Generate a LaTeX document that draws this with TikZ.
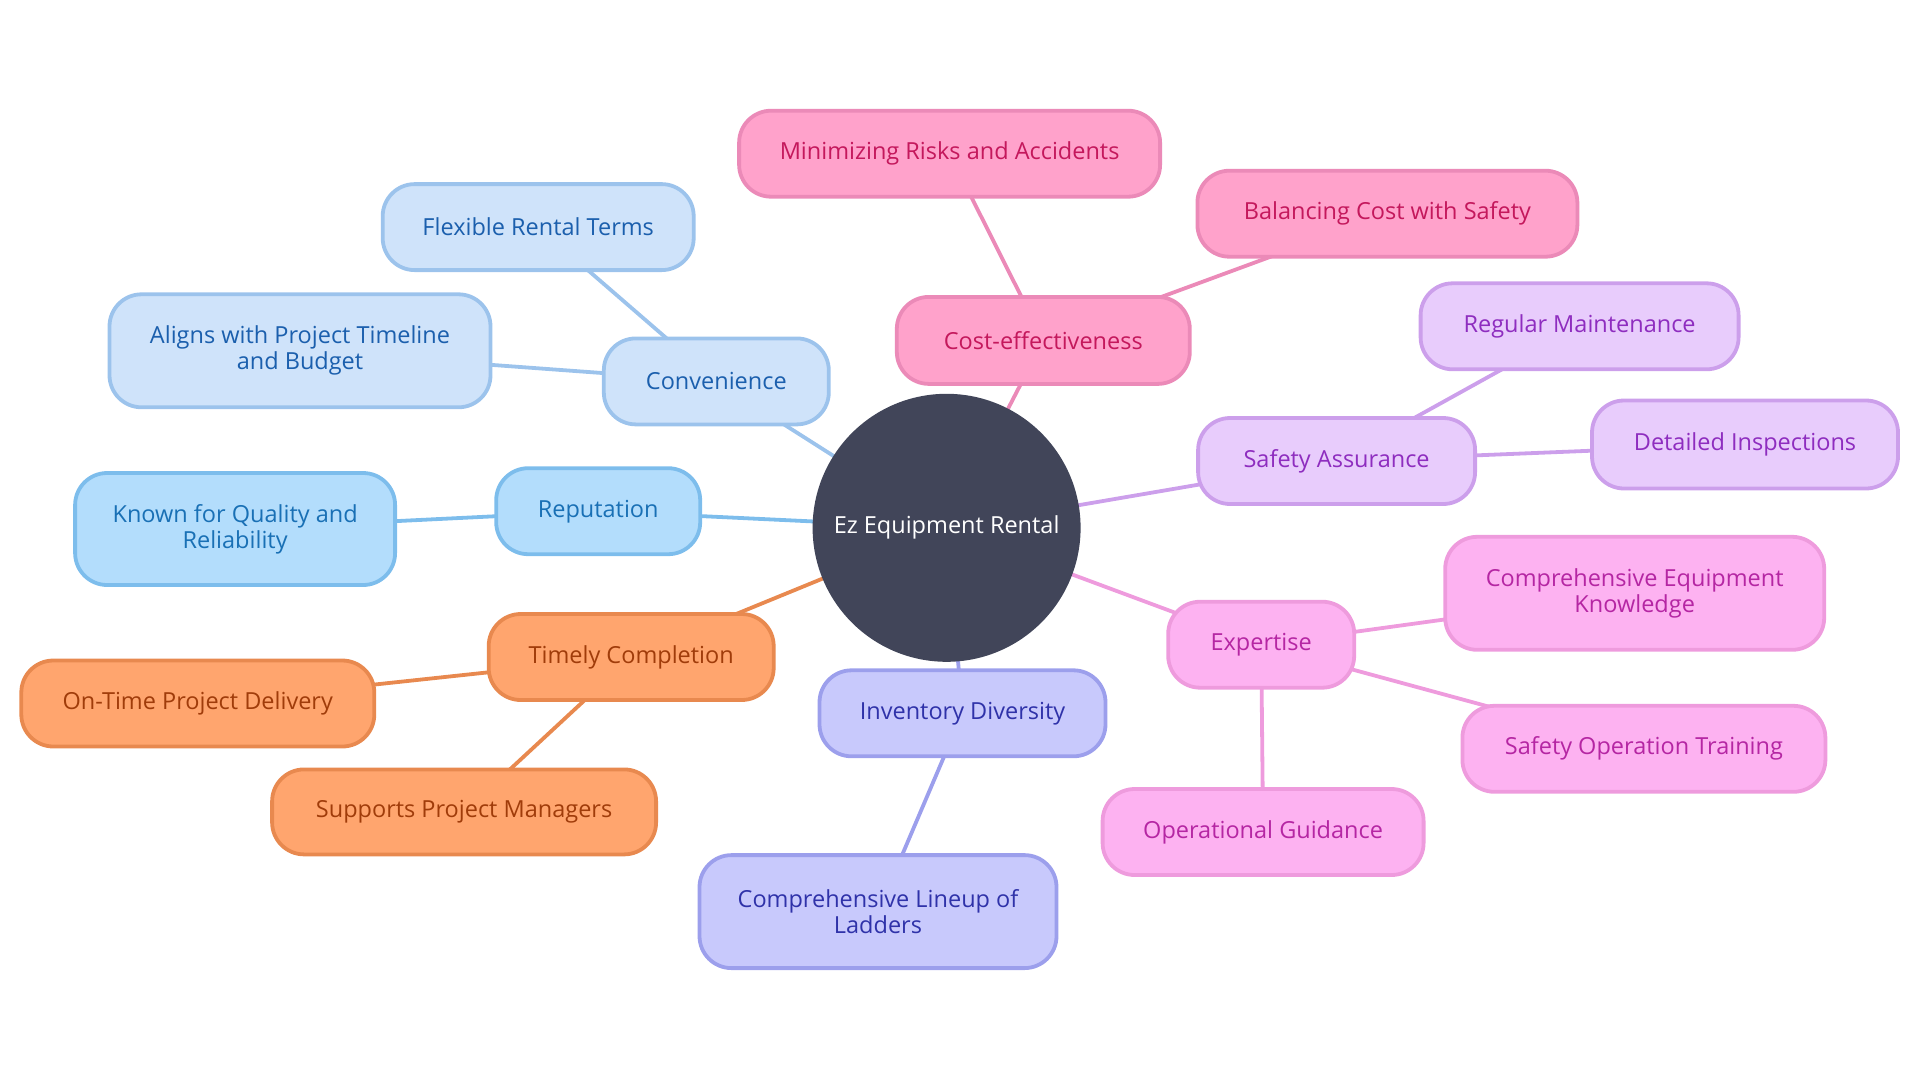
\documentclass[tikz,border=0pt]{standalone}
\usepackage{fontspec}
\setmainfont{Open Sans}
\pgfdeclarelayer{bg}
\pgfsetlayers{bg,main}
\definecolor{convF}{HTML}{CFE3FA}\definecolor{convD}{HTML}{9CC3EC}\definecolor{convT}{HTML}{1B5FAD}
\definecolor{repF}{HTML}{B3DDFC}\definecolor{repD}{HTML}{7DBDEC}\definecolor{repT}{HTML}{1970B5}
\definecolor{costF}{HTML}{FFA2CB}\definecolor{costD}{HTML}{EB8AB8}\definecolor{costT}{HTML}{C4185C}
\definecolor{safeF}{HTML}{E8CCFC}\definecolor{safeD}{HTML}{CC9FEB}\definecolor{safeT}{HTML}{8E2DBF}
\definecolor{expF}{HTML}{FDB2F1}\definecolor{expD}{HTML}{EE9BDD}\definecolor{expT}{HTML}{B526A3}
\definecolor{timeF}{HTML}{FFA56E}\definecolor{timeD}{HTML}{E8894F}\definecolor{timeT}{HTML}{A03C0A}
\definecolor{invF}{HTML}{C8C9FC}\definecolor{invD}{HTML}{9C9FEC}\definecolor{invT}{HTML}{2F32A9}
\definecolor{hub}{HTML}{414559}
\tikzset{
  box/.style={draw, line width=3.8pt, rounded corners=32pt, align=center,
    font=\fontsize{23.5}{26}\selectfont, inner sep=0pt},
  conv/.style={box, fill=convF, draw=convD, text=convT},
  rep/.style={box, fill=repF, draw=repD, text=repT},
  cost/.style={box, fill=costF, draw=costD, text=costT},
  safe/.style={box, fill=safeF, draw=safeD, text=safeT},
  expt/.style={box, fill=expF, draw=expD, text=expT},
  tim/.style={box, fill=timeF, draw=timeD, text=timeT},
  inv/.style={box, fill=invF, draw=invD, text=invT},
  sz/.style 2 args={minimum width=#1pt, minimum height=#2pt},
  link/.style={line width=3.8pt}
}
\begin{document}
\begin{tikzpicture}[x=1pt,y=-1pt]
\useasboundingbox (0,0) rectangle (1920,1080);
\node[circle, fill=hub, minimum size=268pt, inner sep=0pt, text=white,
  font=\fontsize{23.5}{26}\selectfont] (hub) at (946.6,527.8) {Ez Equipment Rental};

\node[cost, sz={421}{86}] (risk) at (949.6,153.7) {Minimizing Risks and Accidents};
\node[cost, sz={380}{86}] (bal) at (1387.4,213.7) {Balancing Cost with Safety};
\node[cost, sz={293}{87}] (cost) at (1043.3,340.4) {Cost-effectiveness};

\node[conv, sz={225}{86}] (conv) at (716.3,381.4) {Convenience};
\node[conv, sz={311}{86}] (flex) at (538.2,227.1) {Flexible Rental Terms};
\node[conv, sz={381}{113}] (align) at (300,350.8) {Aligns with Project Timeline\\and Budget};

\node[rep, sz={204}{86}] (rep) at (598.2,511.2) {Reputation};
\node[rep, sz={320}{112}] (known) at (235.1,529) {Known for Quality and\\Reliability};

\node[tim, sz={285}{86}] (time) at (631.2,657) {Timely Completion};
\node[tim, sz={353}{86}] (ontime) at (197.8,703.5) {On-Time Project Delivery};
\node[tim, sz={384}{85}] (supp) at (464.1,811.9) {Supports Project Managers};

\node[inv, sz={286}{86}] (inv) at (962.5,713.3) {Inventory Diversity};
\node[inv, sz={357}{113}] (ladd) at (878,911.6) {Comprehensive Lineup of\\Ladders};

\node[safe, sz={277}{86}] (safe) at (1336.6,461) {Safety Assurance};
\node[safe, sz={318}{86}] (maint) at (1579.6,326.3) {Regular Maintenance};
\node[safe, sz={306}{88}] (insp) at (1745,444.5) {Detailed Inspections};

\node[expt, sz={186}{86}] (exp) at (1261.2,644.7) {Expertise};
\node[expt, sz={379}{113}] (know) at (1634.7,593.3) {Comprehensive Equipment\\Knowledge};
\node[expt, sz={363}{86}] (train) at (1643.9,748.8) {Safety Operation Training};
\node[expt, sz={321}{86}] (guide) at (1263.1,832) {Operational Guidance};

\begin{pgfonlayer}{bg}
\draw[link, costD] (hub.center) -- (cost.center);
\draw[link, costD] (cost.center) -- (risk.center);
\draw[link, costD] (cost.center) -- (bal.center);
\draw[link, convD] (hub.center) -- (conv.center);
\draw[link, convD] (conv.center) -- (flex.center);
\draw[link, convD] (conv.center) -- (align.center);
\draw[link, repD] (hub.center) -- (rep.center);
\draw[link, repD] (rep.center) -- (known.center);
\draw[link, timeD] (hub.center) -- (time.center);
\draw[link, timeD] (time.center) -- (ontime.center);
\draw[link, timeD] (time.center) -- (supp.center);
\draw[link, invD] (hub.center) -- (inv.center);
\draw[link, invD] (inv.center) -- (ladd.center);
\draw[link, safeD] (hub.center) -- (safe.center);
\draw[link, safeD] (safe.center) -- (maint.center);
\draw[link, safeD] (safe.center) -- (insp.center);
\draw[link, expD] (hub.center) -- (exp.center);
\draw[link, expD] (exp.center) -- (know.center);
\draw[link, expD] (exp.center) -- (train.center);
\draw[link, expD] (exp.center) -- (guide.center);
\end{pgfonlayer}
\end{tikzpicture}
\end{document}
